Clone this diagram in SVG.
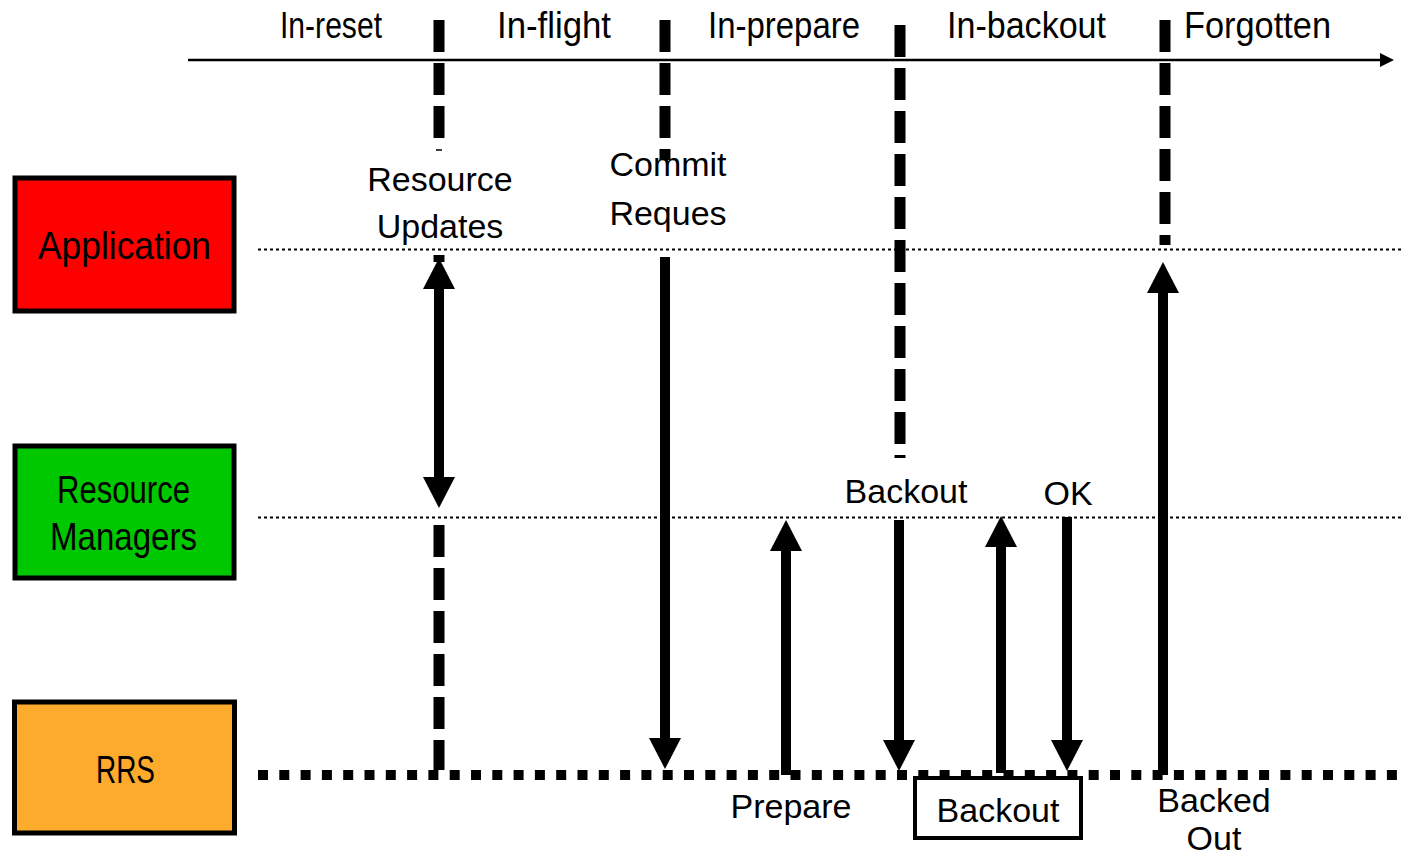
<svg xmlns="http://www.w3.org/2000/svg" width="1403" height="857" viewBox="0 0 1403 857">
  <style>
    .phase { font-family: "Liberation Sans", "Open Sans", sans-serif; font-size: 36px; fill: #000; }
    .actor { font-family: "Liberation Sans", "Open Sans", sans-serif; font-size: 39px; fill: #000; text-anchor: middle; }
    .lbl { font-family: "Liberation Sans", Arial, sans-serif; font-size: 34px; fill: #000; text-anchor: middle; }
    .box { stroke: #000; stroke-width: 5; }
    .phaseline { stroke: #000; stroke-width: 11; stroke-dasharray: 32 11; fill: none; }
    .lane { stroke: #000; stroke-width: 2; stroke-dasharray: 3 3; fill: none; }
    .rrsline { stroke: #000; stroke-width: 10; stroke-dasharray: 10 11.3; fill: none; }
    .msg { stroke: #000; stroke-width: 10; fill: none; }
  </style>
  <defs>
    <marker id="head" viewBox="0 0 31 32" refX="0" refY="16" markerWidth="31" markerHeight="32" markerUnits="userSpaceOnUse" orient="auto-start-reverse">
      <path d="M0,0 L31,16 L0,32 Z" fill="#000"/>
    </marker>
    <marker id="axisHead" viewBox="0 0 14 14" refX="0" refY="7" markerWidth="14" markerHeight="14" markerUnits="userSpaceOnUse" orient="auto">
      <path d="M0,0 L14,7 L0,14 Z" fill="#000"/>
    </marker>
  </defs>

  <!-- timeline axis and phase names -->
  <g id="timeline">
    <line x1="188" y1="60" x2="1380" y2="60" stroke="#000" stroke-width="2.5" marker-end="url(#axisHead)"/>
    <text class="phase" x="280" y="38" textLength="102" lengthAdjust="spacingAndGlyphs">In-reset</text>
    <text class="phase" x="497" y="38" textLength="114" lengthAdjust="spacingAndGlyphs">In-flight</text>
    <text class="phase" x="708" y="38" textLength="152" lengthAdjust="spacingAndGlyphs">In-prepare</text>
    <text class="phase" x="947" y="38" textLength="159" lengthAdjust="spacingAndGlyphs">In-backout</text>
    <text class="phase" x="1184" y="38" textLength="147" lengthAdjust="spacingAndGlyphs">Forgotten</text>
  </g>

  <!-- actors -->
  <g id="application">
    <rect class="box" x="15" y="178" width="219" height="133" fill="#ff0000"/>
    <text class="actor" x="124.5" y="259" textLength="173" lengthAdjust="spacingAndGlyphs">Application</text>
  </g>
  <g id="resource-managers">
    <rect class="box" x="15" y="446" width="219" height="132" fill="#00c800"/>
    <text class="actor" x="123.5" y="503" textLength="133" lengthAdjust="spacingAndGlyphs">Resource</text>
    <text class="actor" x="123.5" y="550" textLength="147" lengthAdjust="spacingAndGlyphs">Managers</text>
  </g>
  <g id="rrs">
    <rect class="box" x="14.5" y="702" width="220" height="131" fill="#fdab2d"/>
    <text class="actor" x="125.5" y="783" textLength="59" lengthAdjust="spacingAndGlyphs">RRS</text>
  </g>

  <!-- swim lanes -->
  <g id="lanes">
    <line class="lane" x1="258" y1="249.5" x2="1403" y2="249.5"/>
    <line class="lane" x1="258" y1="517.5" x2="1403" y2="517.5"/>
    <line class="rrsline" x1="258" y1="775" x2="1403" y2="775"/>
  </g>

  <!-- phase boundaries -->
  <g id="boundaries">
    <line class="phaseline" x1="439" y1="20" x2="439" y2="140"/>
    <line x1="436" y1="150" x2="442" y2="150" stroke="#000" stroke-width="1.5"/>
    <line x1="439" y1="255" x2="439" y2="262" stroke="#000" stroke-width="11"/>
    <line class="phaseline" x1="439" y1="525" x2="439" y2="770"/>
    <line class="phaseline" x1="665" y1="20" x2="665" y2="160"/>
    <line class="phaseline" x1="900" y1="25" x2="900" y2="458"/>
    <line class="phaseline" x1="1165" y1="20" x2="1165" y2="245"/>
  </g>

  <!-- messages -->
  <g id="connectors">
    <line class="msg" x1="439" y1="289" x2="439" y2="477" marker-start="url(#head)" marker-end="url(#head)"/>
    <line class="msg" x1="665" y1="257" x2="665" y2="738" marker-end="url(#head)"/>
    <line class="msg" x1="786" y1="775" x2="786" y2="551" marker-end="url(#head)"/>
    <line class="msg" x1="899" y1="520" x2="899" y2="740" marker-end="url(#head)"/>
    <line class="msg" x1="1001" y1="773" x2="1001" y2="547" marker-end="url(#head)"/>
    <line class="msg" x1="1067" y1="517" x2="1067" y2="740" marker-end="url(#head)"/>
    <line class="msg" x1="1163" y1="775" x2="1163" y2="293" marker-end="url(#head)"/>
  </g>

  <!-- message labels -->
  <g id="labels">
    <text class="lbl" x="440" y="191">Resource</text>
    <text class="lbl" x="440" y="238">Updates</text>
    <text class="lbl" x="668" y="176">Commit</text>
    <text class="lbl" x="668" y="225">Reques</text>
    <text class="lbl" x="906" y="503">Backout</text>
    <text class="lbl" x="1068" y="505">OK</text>
    <text class="lbl" x="791" y="818">Prepare</text>
    <text class="lbl" x="1214" y="812">Backed</text>
    <text class="lbl" x="1214" y="850">Out</text>
  </g>

  <g id="backout-step">
    <rect x="915" y="778" width="166" height="60" fill="#fff" stroke="#000" stroke-width="4"/>
    <text class="lbl" x="998" y="822">Backout</text>
  </g>
</svg>
